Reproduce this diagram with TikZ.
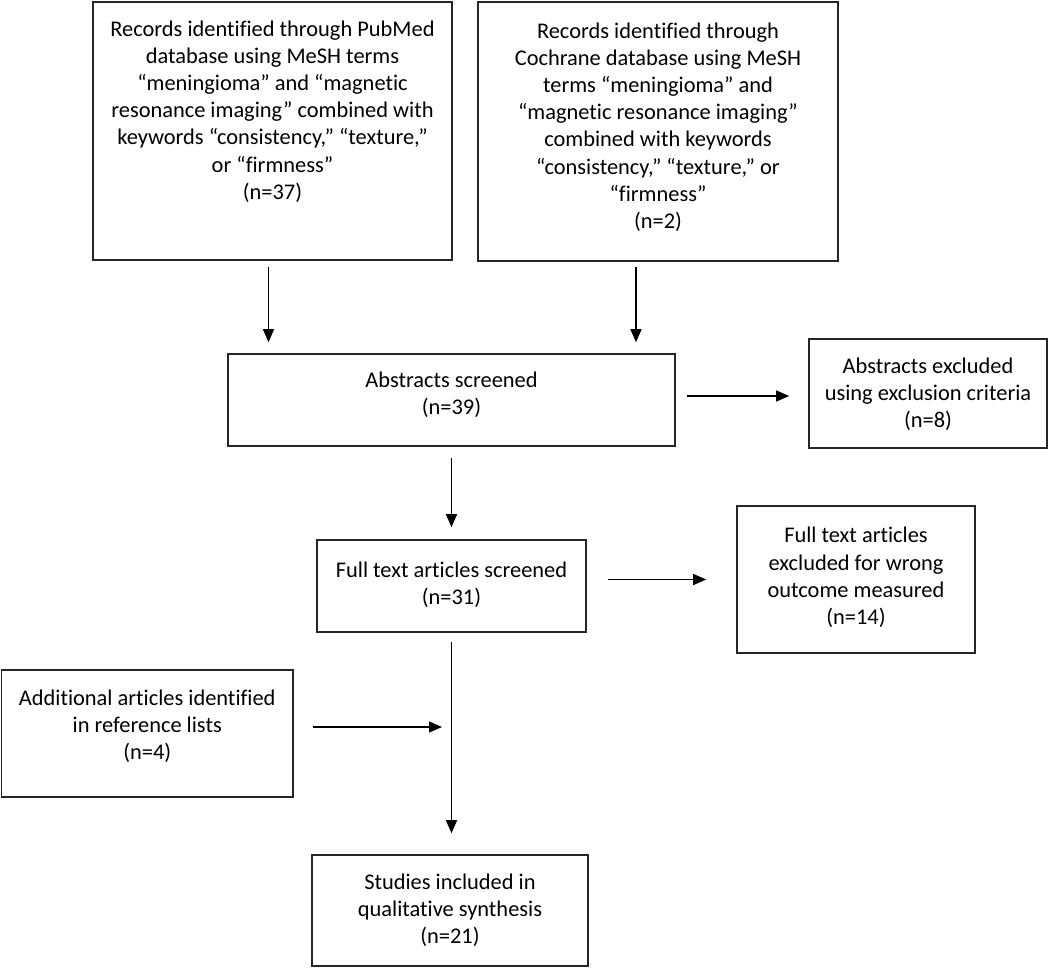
\documentclass[tikz,border=0pt]{standalone}
\usepackage{fontspec}
\setmainfont[Ligatures=CommonOff]{Carlito}
\usetikzlibrary{arrows.meta,calc}
\begin{document}
\begin{tikzpicture}[x=1pt,y=-1pt,
  box/.style={draw=black!85, line width=1.6pt, rectangle, inner sep=0pt},
  txt/.style={align=center, font=\fontsize{22.4}{27.2}\selectfont, inner sep=0pt},
  arr/.style={line width=1.3pt, -{Triangle[length=13pt,width=11pt]}}]
\useasboundingbox (0,0) rectangle (1050,967);

\node[box, minimum width=359pt, minimum height=258pt] (b1) at (272.5,131) {};
\node[box, minimum width=360pt, minimum height=259pt] (b2) at (658,131.5) {};
\node[box, minimum width=447pt, minimum height=92pt] (abs) at (451.5,400) {};
\node[box, minimum width=238pt, minimum height=109pt] (excl) at (928,393.5) {};
\node[box, minimum width=269pt, minimum height=92pt] (ft) at (451.5,586) {};
\node[box, minimum width=238pt, minimum height=147pt] (ftex) at (856,579.5) {};
\node[box, minimum width=291.5pt, minimum height=127pt] (add) at (147.25,733.5) {};
\node[box, minimum width=276pt, minimum height=111pt] (stud) at (450,910.5) {};

\node[txt] (b1t) at (272.5,111.5) {Records identified through PubMed\\database using MeSH terms\\“meningioma” and “magnetic\\resonance imaging” combined with\\keywords “consistency,” “texture,”\\or “firmness”\\(n=37)};
\node[txt] (b2t) at (658,127) {Records identified through\\Cochrane database using MeSH\\terms “meningioma” and\\“magnetic resonance imaging”\\combined with keywords\\“consistency,” “texture,” or\\“firmness”\\(n=2)};
\node[txt] (abst) at (451.5,394.5) {Abstracts screened\\(n=39)};
\node[txt] (exclt) at (928,394) {Abstracts excluded\\using exclusion criteria\\(n=8)};
\node[txt] (ftt) at (451.5,585) {Full text articles screened\\(n=31)};
\node[txt] (ftext) at (856,577.5) {Full text articles\\excluded for wrong\\outcome measured\\(n=14)};
\node[txt] (addt) at (147.25,726.5) {Additional articles identified\\in reference lists\\(n=4)};
\node[txt] (studt) at (450,910) {Studies included in\\qualitative synthesis\\(n=21)};

\draw[arr, shorten <=6pt, shorten >=11pt] ([xshift=-4pt]b1.south) -- ([xshift=-4pt]b1.south |- abs.north);
\draw[arr, shorten <=5pt, shorten >=11pt] ([xshift=-22pt]b2.south) -- ([xshift=-22pt]b2.south |- abs.north);
\draw[arr, shorten <=11pt, shorten >=19pt] ([yshift=4pt]abs.east) -- ([yshift=4pt]abs.east -| excl.west);
\draw[arr, shorten <=11pt, shorten >=12pt] (abs.south) -- (ft.north);
\draw[arr, shorten <=21pt, shorten >=30pt] (ft.east |- ftex.west) -- (ftex.west);
\draw[arr, shorten <=9pt, shorten >=21pt] (ft.south) -- (ft.south |- stud.north);
\draw[arr, shorten <=19pt, shorten >=9.5pt] ([yshift=6.5pt]add.east) -- ([yshift=6.5pt]add.east -| ft.south);
\end{tikzpicture}
\end{document}
